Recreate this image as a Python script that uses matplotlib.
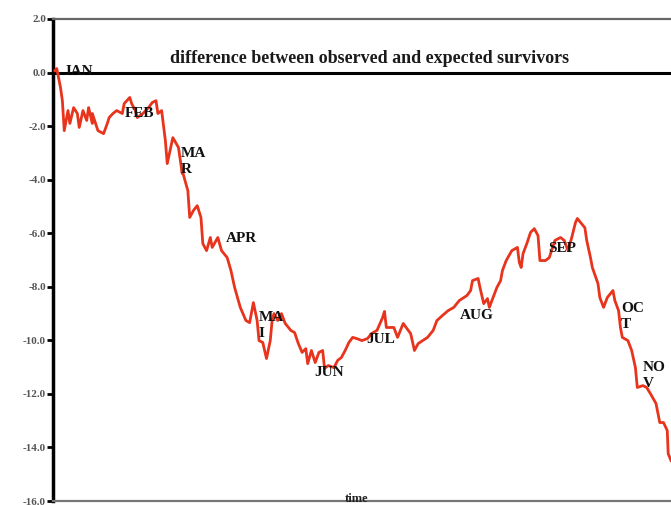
import numpy as np
import matplotlib
matplotlib.use("Agg")
import matplotlib.pyplot as plt

# day of year (approx) and difference observed - expected survivors
days = [1, 2, 4, 5, 6, 8, 9, 11, 13, 14, 16, 18, 19, 21, 21, 24, 27, 29, 30, 32,
        34, 37, 38, 41, 42, 44, 45, 48, 51, 53, 55, 56, 58, 60, 61, 64, 67, 69, 69, 72,
        73, 75, 77, 79, 80, 82, 84, 85, 88, 90, 93, 95, 97, 100, 103, 105, 107, 109, 110, 112,
        114, 116, 117, 118, 120, 122, 124, 127, 129, 131, 133, 135, 136, 138, 140, 142, 144, 145, 147, 150,
        152, 154, 156, 158, 160, 162, 165, 168, 170, 173, 176, 177, 178, 182, 184, 187, 191, 193, 195, 200,
        203, 205, 208, 211, 214, 217, 221, 223, 224, 227, 228, 230, 232, 233, 235, 237, 239, 240, 242, 245,
        248, 249, 250, 251, 253, 255, 257, 259, 260, 263, 265, 268, 271, 273, 275, 277, 279, 280, 283, 284,
        285, 287, 288, 291, 292, 294, 296, 299, 300, 302, 303, 304, 307, 309, 311, 312, 315, 317, 319, 322,
        324, 326, 328, 328.5, 330]
diff = [0.07, 0.15, -0.56, -1.05, -2.17, -1.42, -1.90, -1.31, -1.53, -2.05, -1.42, -1.79, -1.31, -1.90, -1.53, -2.17, -2.28, -1.90, -1.68, -1.53,
        -1.42, -1.53, -1.16, -0.93, -1.16, -1.42, -1.68, -1.53, -1.31, -1.12, -1.05, -1.53, -1.42, -2.54, -3.40, -2.43, -2.80, -3.77, -3.66, -4.41,
        -5.41, -5.15, -4.97, -5.41, -6.39, -6.65, -6.16, -6.53, -6.16, -6.65, -6.91, -7.39, -8.03, -8.77, -9.26, -9.34, -8.59, -9.26, -10.01, -10.08,
        -10.68, -10.01, -9.26, -9.00, -9.26, -9.00, -9.37, -9.63, -9.71, -10.12, -10.45, -10.31, -10.87, -10.38, -10.83, -10.45, -10.38, -11.05, -10.94, -11.02,
        -10.75, -10.64, -10.38, -10.08, -9.89, -9.93, -10.01, -9.93, -9.75, -9.63, -9.15, -8.92, -9.52, -9.52, -9.89, -9.37, -9.75, -10.38, -10.12, -9.89,
        -9.63, -9.26, -9.07, -8.89, -8.77, -8.51, -8.33, -8.14, -7.77, -7.69, -8.03, -8.63, -8.44, -8.77, -8.40, -8.03, -7.77, -7.39, -7.02, -6.65,
        -6.53, -7.09, -7.28, -6.76, -6.39, -5.97, -5.83, -6.09, -7.02, -7.02, -6.91, -6.27, -6.16, -6.27, -6.65, -6.16, -5.60, -5.45, -5.71, -5.79,
        -6.27, -6.91, -7.28, -7.88, -8.40, -8.77, -8.40, -8.14, -8.51, -8.89, -9.52, -9.89, -10.01, -10.38, -11.02, -11.76, -11.69, -11.76, -11.99, -12.36,
        -13.07, -13.07, -13.37, -14.23, -14.49]

months = ["JAN", "FEB", "MA\nR", "APR", "MA\nI", "JUN", "JUL", "AUG", "SEP", "OC\nT", "NO\nV"]
month_x = [5.3, 38.4, 68.4, 92.4, 110.0, 139.4, 167.1, 217.3, 264.3, 303.3, 315.1]
month_y = [0.04, -1.53, -3.32, -6.20, -9.43, -11.20, -9.97, -9.07, -6.57, -9.11, -11.30]

yticks = [2.0, 0.0, -2.0, -4.0, -6.0, -8.0, -10.0, -12.0, -14.0, -16.0]

serif = ["Liberation Serif", "DejaVu Serif"]

fig = plt.figure(figsize=(6.71, 5.05), dpi=100)
ax = fig.add_axes([0.079, 0.0079, 0.921, 0.9545])

ax.plot(days, diff, color="#e8341c", lw=2.0, zorder=3)
ax.axhline(0, color="black", lw=2.2, zorder=2)

for lab, mx, my in zip(months, month_x, month_y):
    ax.text(mx, my, lab, family=serif, fontsize=11, fontweight="bold",
            ha="left", va="center", linespacing=1.3, color="#111111", zorder=4)

ax.text(0.513, 0.917, "difference between observed and expected survivors",
        transform=ax.transAxes, family=serif, fontsize=13, fontweight="bold",
        ha="center", va="center", color="#1a1a1a")
fig.text(0.532, 0.0, "time", family=serif, fontsize=9,
         fontweight="bold", ha="center", va="bottom", color="#222222")

ax.set_xlim(0, 330)
ax.set_ylim(-16, 2)
ax.set_yticks(yticks)
ax.set_yticklabels(["%.1f" % t for t in yticks], family=serif, fontsize=8,
                   fontweight="bold", color="#555555")
ax.set_xticks([])
ax.tick_params(axis="y", direction="out", length=4, width=2, color="black", pad=1)

ax.spines["left"].set_linewidth(2.5)
ax.spines["left"].set_color("black")
ax.spines["top"].set_linewidth(1.6)
ax.spines["top"].set_color("#666666")
ax.spines["bottom"].set_linewidth(1.6)
ax.spines["bottom"].set_color("#777777")
ax.spines["right"].set_visible(False)

fig.savefig("out.png", dpi=100)
